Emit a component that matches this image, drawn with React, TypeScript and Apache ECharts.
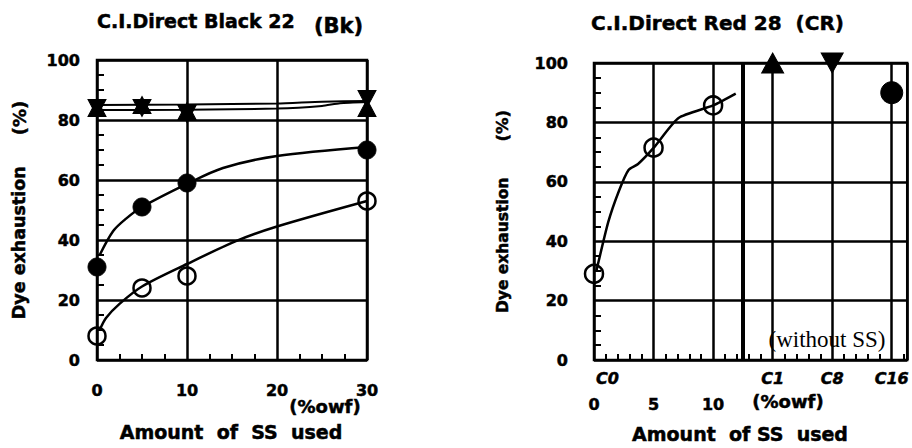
import React, { useEffect, useRef } from "react";
import * as echarts from "echarts";

// ---- Left panel: C.I.Direct Black 22 (Bk) ----
const bkSS = [0, 5, 10, 30];
const bkOpen = [8, 24, 28, 53];
const bkFilled = [31, 51, 59, 70];
const bkUpTri = [84, 85, 83, 84];
const bkDownTri = [84, 84, 82, 87];
// hand-drawn fitted curves
const bkOpenFitX = [0.3, 1, 2.5, 5, 10, 15.5, 20, 30];
const bkOpenFitY = [10, 14, 18.7, 24.5, 32, 39.7, 44.5, 53];
const bkFilledFitX = [0.3, 1.8, 3.3, 5, 10, 14, 20, 30];
const bkFilledFitY = [35, 43, 47.3, 51, 58.7, 64, 68, 71];
const bkUpperFitX = [0, 10, 20, 25, 30];
const bkUpperFitY = [85, 85.2, 85.5, 86.1, 86.3];
const bkLowerFitX = [0, 10, 20, 25, 27, 30];
const bkLowerFitY = [83.3, 83.4, 83.8, 84.7, 85.6, 86];
const bkXTicks = [0, 10, 20, 30];

// ---- Right panel: C.I.Direct Red 28 (CR) ----
const crSS = [0, 5, 10];
const crOpen = [29, 71.5, 85.7];
const crFitX = [0.2, 1.2, 2.1, 2.9, 3.7, 5, 7.1, 10, 11.9];
const crFitY = [30, 46.5, 57, 64, 66, 71.4, 81.5, 85.7, 89.7];
const crControlLabels = ["C1", "C8", "C16"];
const crControlPos = [15, 20, 25];
const crControlValues = [100, 100, 90];
const crSSLabels = ["0", "5", "10"];
const crSeparator = 12.5;

const yTicks = [0, 20, 40, 60, 80, 100];

const FONT = "DejaVu Sans";
const BLACK = "#000";
const HEAVY = { textBorderColor: BLACK, textBorderWidth: 0.5 };

const zip = (xs: number[], ys: number[]) => xs.map((x, i) => [x, ys[i]]);

export default function App() {
  const ref = useRef<HTMLDivElement>(null);
  useEffect(() => {
    if (!ref.current) return;
    const chart = echarts.init(ref.current, undefined, { renderer: "svg" });

    const tickLabel = { fontFamily: FONT, fontWeight: "bold", fontSize: 16, color: BLACK, ...HEAVY };
    const yName = (gap: number, aSize: number, bSize: number, pad: number) => ({
      name: "{a|Dye exhaustion}{b|(%)}",
      nameLocation: "middle",
      nameRotate: 90,
      nameGap: gap,
      nameTextStyle: {
        rich: {
          a: { fontFamily: FONT, fontWeight: "bold", fontSize: aSize, color: BLACK, ...HEAVY },
          b: { fontFamily: FONT, fontWeight: "bold", fontSize: bSize, color: BLACK, padding: [0, 0, 0, pad], ...HEAVY },
        },
      },
    });
    const commonY = {
      type: "value",
      min: 0,
      max: 100,
      interval: 20,
      axisLine: { show: false },
      axisTick: { show: false, inside: true },
      minorTick: { show: true, splitNumber: 4, length: 7, lineStyle: { color: BLACK, width: 2 } },
      splitLine: { show: true, lineStyle: { color: BLACK, width: 2.5 } },
      axisLabel: { ...tickLabel, margin: 17, formatter: (v: number) => (yTicks.includes(v) ? String(v) : "") },
    };

    const openStyle = { color: "transparent", borderColor: BLACK, borderWidth: 2.5, opacity: 1 };
    const fillStyle = { color: BLACK, borderColor: BLACK, borderWidth: 1, opacity: 1 };
    const fitLine = (xs: number[], ys: number[], xi: number, smooth: number, width = 2.5) => ({
      type: "line",
      xAxisIndex: xi,
      yAxisIndex: xi,
      data: zip(xs, ys),
      smooth,
      showSymbol: false,
      symbol: "none",
      lineStyle: { color: BLACK, width, opacity: 1 },
      silent: true,
      z: 3,
    });
    const scatter = (xs: number[], ys: number[], xi: number, symbol: string, size: any, style: any, rotate = 0) => ({
      type: "scatter",
      xAxisIndex: xi,
      yAxisIndex: xi,
      data: zip(xs, ys),
      symbol,
      symbolSize: size,
      symbolRotate: rotate,
      itemStyle: style,
      clip: false,
      z: 4,
    });
    const titleStyle = (size: number) => ({ fontFamily: FONT, fontWeight: "bold", fontSize: size, color: BLACK, ...HEAVY });

    chart.setOption({
      animation: false,
      backgroundColor: "#fff",
      title: [
        { text: "C.I.Direct Black 22", left: 92, top: 6, padding: 5, textStyle: titleStyle(19) },
        { text: "(Bk)", left: 309, top: 10, padding: 5, textStyle: titleStyle(21) },
        { text: "C.I.Direct Red 28  (CR)", left: 586, top: 8, padding: 5, textStyle: titleStyle(20) },
      ],
      grid: [
        { left: 97, top: 60, width: 270, height: 300, show: true, borderColor: BLACK, borderWidth: 2.5, backgroundColor: "transparent" },
        { left: 594, top: 63, width: 314, height: 297, show: true, borderColor: BLACK, borderWidth: 2.5, backgroundColor: "transparent" },
      ],
      xAxis: [
        {
          type: "value",
          gridIndex: 0,
          min: 0,
          max: 30,
          interval: 10,
          axisLine: { show: false },
          axisTick: { show: false, inside: true },
          minorTick: { show: true, splitNumber: 4, length: 6, lineStyle: { color: BLACK, width: 2 } },
          splitLine: { show: true, lineStyle: { color: BLACK, width: 2.5 } },
          axisLabel: { ...tickLabel, margin: 22, formatter: (v: number) => (bkXTicks.includes(v) ? String(v) : "") },
        },
        {
          type: "value",
          gridIndex: 1,
          min: 0,
          max: 26.3,
          interval: 5,
          axisLine: { show: false },
          axisTick: { show: false, inside: true },
          minorTick: { show: true, splitNumber: 5, length: 6, lineStyle: { color: BLACK, width: 2 } },
          splitLine: { show: true, lineStyle: { color: BLACK, width: 2.5 } },
          axisLabel: {
            margin: 5,
            formatter: (v: number) => {
              const si = crSS.indexOf(v);
              const ci = crControlPos.indexOf(v);
              if (v === 0) return "{c0|C0}\n{n|" + crSSLabels[0] + "}";
              if (si >= 0) return "{c| }\n{n|" + crSSLabels[si] + "}";
              if (ci >= 0) return "{c|" + crControlLabels[ci] + "}\n{n| }";
              return "";
            },
            rich: {
              c0: { fontFamily: FONT, fontWeight: "bold", fontStyle: "italic", fontSize: 16, color: BLACK, lineHeight: 26, padding: [0, 0, 0, 27], ...HEAVY },
              c: { fontFamily: FONT, fontWeight: "bold", fontStyle: "italic", fontSize: 16, color: BLACK, lineHeight: 26, ...HEAVY },
              n: { fontFamily: FONT, fontWeight: "bold", fontSize: 16, color: BLACK, lineHeight: 26, ...HEAVY },
            },
          },
        },
      ],
      yAxis: [
        { ...commonY, gridIndex: 0, ...yName(69, 17.5, 18, 31) },
        { ...commonY, gridIndex: 1, axisLabel: { ...commonY.axisLabel, margin: 26 }, ...yName(83, 15.5, 16.5, 36) },
      ],
      series: [
        fitLine(bkOpenFitX, bkOpenFitY, 0, 0.3),
        fitLine(bkFilledFitX, bkFilledFitY, 0, 0.3),
        fitLine(bkUpperFitX, bkUpperFitY, 0, 0.2, 2),
        fitLine(bkLowerFitX, bkLowerFitY, 0, 0.2, 2),
        scatter(bkSS, bkOpen, 0, "circle", 17, openStyle),
        scatter(bkSS, bkFilled, 0, "circle", 18, fillStyle),
        scatter(bkSS, bkUpTri, 0, "triangle", [18, 17], fillStyle),
        scatter(bkSS, bkDownTri, 0, "triangle", [18, 17], fillStyle, 180),
        {
          ...fitLine(crFitX, crFitY, 1, 0.2),
          markLine: {
            silent: true,
            symbol: "none",
            label: { show: false },
            lineStyle: { color: BLACK, width: 4, type: "solid", opacity: 1 },
            data: [{ xAxis: crSeparator }],
          },
        },
        scatter(crSS, crOpen, 1, "circle", 18, openStyle),
        scatter([crControlPos[0]], [crControlValues[0]], 1, "triangle", [22, 20], fillStyle),
        scatter([crControlPos[1]], [crControlValues[1]], 1, "triangle", [22, 20], fillStyle, 180),
        scatter([crControlPos[2]], [crControlValues[2]], 1, "circle", 22, fillStyle),
      ],
      graphic: [
        { type: "text", x: 325, y: 406, style: { text: "(%owf)", font: `bold 18px "${FONT}"`, fill: BLACK, stroke: BLACK, lineWidth: 0.5, align: "center", verticalAlign: "middle" } },
        { type: "text", x: 231, y: 432, style: { text: "Amount\u00a0\u00a0of\u00a0\u00a0SS\u00a0\u00a0used", font: `bold 19px "${FONT}"`, fill: BLACK, stroke: BLACK, lineWidth: 0.5, align: "center", verticalAlign: "middle" } },
        { type: "text", x: 788, y: 401, style: { text: "(%owf)", font: `bold 18px "${FONT}"`, fill: BLACK, stroke: BLACK, lineWidth: 0.5, align: "center", verticalAlign: "middle" } },
        { type: "text", x: 740, y: 434, style: { text: "Amount\u00a0\u00a0of\u00a0SS\u00a0\u00a0used", font: `bold 19px "${FONT}"`, fill: BLACK, stroke: BLACK, lineWidth: 0.5, align: "center", verticalAlign: "middle" } },
        { type: "text", x: 827, y: 339, z: 10, style: { text: "(without SS)", font: `23px "Liberation Serif"`, fill: BLACK, align: "center", verticalAlign: "middle" } },
      ],
    });
    return () => chart.dispose();
  }, []);
  return <div ref={ref} style={{ position: "fixed", left: 0, top: 0, width: 912, height: 448, background: "#fff" }} />;
}
